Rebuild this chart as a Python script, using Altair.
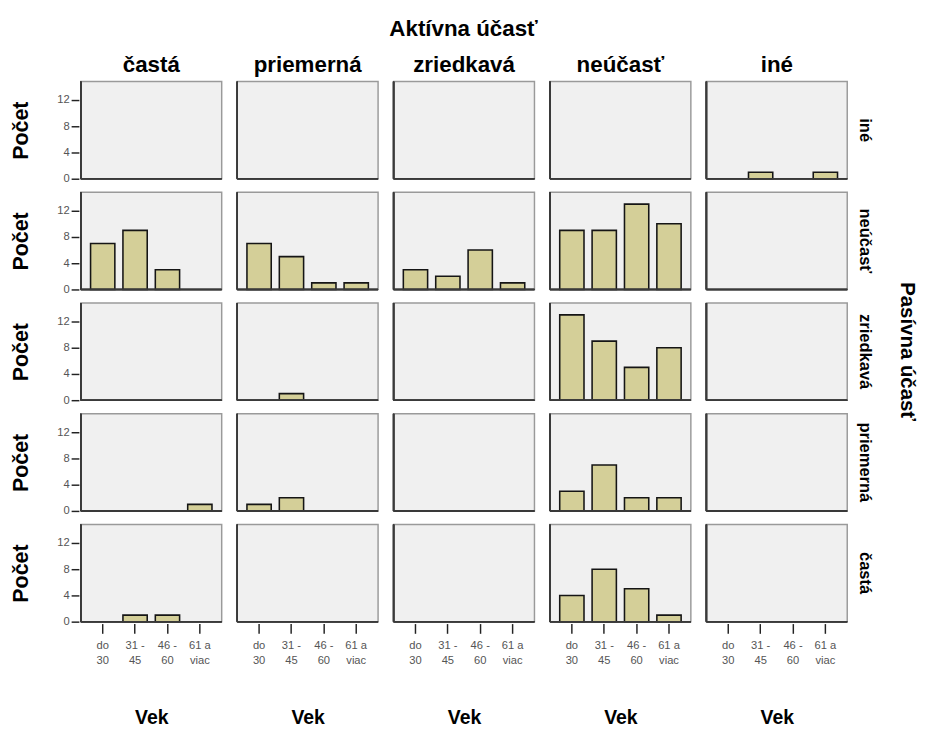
import altair as alt
import pandas as pd

aktivna = ["častá", "priemerná", "zriedkavá", "neúčasť", "iné"]
pasivna = ["iné", "neúčasť", "zriedkavá", "priemerná", "častá"]
vek = ["do 30", "31 - 45", "46 - 60", "61 a viac"]

# counts per Pasívna row, one list per Aktívna column, values per Vek
row_ine = [[0, 0, 0, 0], [0, 0, 0, 0], [0, 0, 0, 0], [0, 0, 0, 0], [0, 1, 0, 1]]
row_neucast = [[7, 9, 3, 0], [7, 5, 1, 1], [3, 2, 6, 1], [9, 9, 13, 10], [0, 0, 0, 0]]
row_zriedkava = [[0, 0, 0, 0], [0, 1, 0, 0], [0, 0, 0, 0], [13, 9, 5, 8], [0, 0, 0, 0]]
row_priemerna = [[0, 0, 0, 1], [1, 2, 0, 0], [0, 0, 0, 0], [3, 7, 2, 2], [0, 0, 0, 0]]
row_casta = [[0, 1, 1, 0], [0, 0, 0, 0], [0, 0, 0, 0], [4, 8, 5, 1], [0, 0, 0, 0]]

rows = {
    "iné": row_ine,
    "neúčasť": row_neucast,
    "zriedkavá": row_zriedkava,
    "priemerná": row_priemerna,
    "častá": row_casta,
}

records = []
for p, cols in rows.items():
    for a, vals in zip(aktivna, cols):
        for v, c in zip(vek, vals):
            records.append({"pasivna": p, "aktivna": a, "vek": v, "pocet": c})
df = pd.DataFrame(records)

FONT = "Liberation Sans"
W, H = 145, 100

label_expr = (
    "datum.label == 'do 30' ? ['do', '30'] : "
    "datum.label == '31 - 45' ? ['31 -', '45'] : "
    "datum.label == '46 - 60' ? ['46 -', '60'] : ['61 a', 'viac']"
)

x_enc = alt.X(
    "vek:N",
    sort=vek,
    scale=alt.Scale(domain=vek, paddingInner=0.25, paddingOuter=0.3),
    axis=alt.Axis(
        title="Vek",
        titleFont=FONT,
        titleFontSize=20,
        titleFontWeight="bold",
        titleColor="#000000",
        titlePadding=43,
        labelExpr=label_expr,
        labelFont=FONT,
        labelFontSize=11.5,
        labelColor="#555555",
        labelLineHeight=15,
        labelAngle=0,
        labelPadding=7,
        tickSize=10,
        tickWidth=1.5,
        tickColor="#222222",
        domain=False,
        grid=False,
    ),
)
y_enc = alt.Y(
    "pocet:Q",
    scale=alt.Scale(domain=[0, 14.8], nice=False),
    axis=alt.Axis(
        title="Počet",
        titleFont=FONT,
        titleFontSize=22,
        titleFontWeight="bold",
        titleColor="#000000",
        titlePadding=25,
        values=[0, 4, 8, 12],
        labelFont=FONT,
        labelFontSize=11.5,
        labelColor="#555555",
        labelPadding=2,
        tickSize=8,
        tickWidth=1.5,
        tickColor="#222222",
        domain=False,
        grid=False,
    ),
)

bars = alt.Chart().mark_bar(
    fill="#d4cf98", stroke="#151515", strokeWidth=1.6
).encode(
    x=x_enc,
    y=y_enc,
    opacity=alt.condition("datum.pocet > 0", alt.value(1), alt.value(0)),
)

left_edge = alt.Chart().mark_rule(color="#3a3a3a", strokeWidth=1.6).encode(
    x=alt.value(0), y=alt.value(0), y2=alt.value(H)
)
bottom_edge = alt.Chart().mark_rule(color="#3a3a3a", strokeWidth=1.6).encode(
    x=alt.value(0), x2=alt.value(W), y=alt.value(H)
)

chart = alt.layer(bars, left_edge, bottom_edge, data=df).properties(
    width=W, height=H
).facet(
    column=alt.Column(
        "aktivna:N",
        sort=aktivna,
        header=alt.Header(
            title="Aktívna účasť",
            titleFont=FONT,
            titleFontSize=23,
            titleFontWeight="bold",
            titleColor="#000000",
            titlePadding=4,
            labelFont=FONT,
            labelFontSize=23,
            labelFontWeight="bold",
            labelColor="#000000",
            labelPadding=3,
        ),
    ),
    row=alt.Row(
        "pasivna:N",
        sort=pasivna,
        header=alt.Header(
            title="Pasívna účasť",
            titleFont=FONT,
            titleFontSize=21,
            titleFontWeight="bold",
            titleColor="#000000",
            titleOrient="right",
            titleAngle=90,
            titlePadding=14,
            labelFont=FONT,
            labelFontSize=17,
            labelFontWeight="bold",
            labelColor="#000000",
            labelOrient="right",
            labelAngle=90,
            labelPadding=7,
        ),
    ),
    spacing={"row": 10, "column": 12},
).properties(
    padding={"left": 2, "top": 0, "right": 6, "bottom": 0},
    background="#ffffff",
).configure_view(
    fill="#f0f0f0", stroke="#9a9a9a", strokeWidth=1.5
)

chart.save("out.html", embed_options={"renderer": "svg", "actions": False})
